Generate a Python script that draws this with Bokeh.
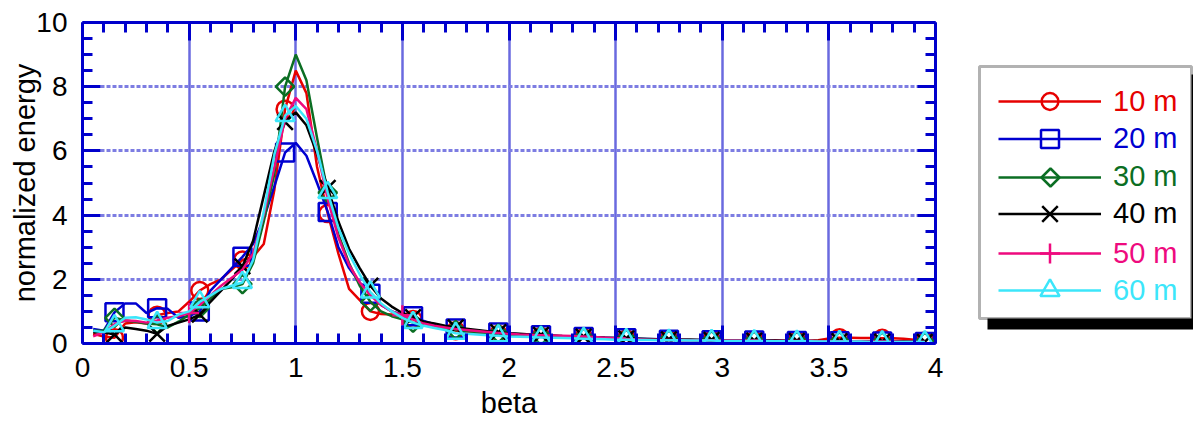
import math
from bokeh.plotting import figure
from bokeh.models import (Range1d, FixedTicker, LinearAxis, ColumnDataSource, CDSView,
                          IndexFilter, Legend, LegendItem, BoxAnnotation, PolyAnnotation)
from bokeh.layouts import row
from bokeh.embed import file_html
from bokeh.resources import INLINE

# ---------------- data ----------------
beta = [0.05, 0.10, 0.15, 0.20, 0.25, 0.30, 0.35, 0.40, 0.45, 0.50,
        0.55, 0.60, 0.65, 0.70, 0.75, 0.80, 0.85, 0.90, 0.95, 1.00,
        1.05, 1.10, 1.15, 1.20, 1.25, 1.30, 1.35, 1.40, 1.45, 1.50,
        1.55, 1.60, 1.65, 1.70, 1.75, 1.80, 1.85, 1.90, 1.95, 2.00,
        2.05, 2.10, 2.15, 2.20, 2.25, 2.30, 2.35, 2.40, 2.45, 2.50,
        2.55, 2.60, 2.65, 2.70, 2.75, 2.80, 2.85, 2.90, 2.95, 3.00,
        3.05, 3.10, 3.15, 3.20, 3.25, 3.30, 3.35, 3.40, 3.45, 3.50,
        3.55, 3.60, 3.65, 3.70, 3.75, 3.80, 3.85, 3.90, 3.95]

e10 = [0.30, 0.22, 0.18, 0.62, 0.66, 0.62, 0.88, 0.95, 1.00, 1.30,
       1.65, 1.85, 2.00, 2.30, 2.60, 2.70, 3.10, 4.80, 7.30, 8.50,
       7.80, 5.50, 4.05, 2.80, 1.70, 1.35, 1.00, 0.92, 0.90, 0.85,
       0.75, 0.62, 0.52, 0.45, 0.40, 0.36, 0.33, 0.30, 0.28, 0.26,
       0.25, 0.24, 0.22, 0.21, 0.20, 0.19, 0.18, 0.17, 0.16, 0.15,
       0.14, 0.13, 0.13, 0.12, 0.12, 0.11, 0.11, 0.10, 0.10, 0.10,
       0.10, 0.09, 0.09, 0.09, 0.09, 0.08, 0.08, 0.08, 0.10, 0.16,
       0.18, 0.18, 0.17, 0.17, 0.16, 0.16, 0.15, 0.12, 0.08]

e20 = [0.45, 0.40, 0.97, 1.25, 1.25, 0.95, 1.10, 1.08, 0.80, 0.85,
       1.00, 1.65, 2.00, 2.35, 2.70, 3.10, 3.90, 4.90, 5.95, 6.25,
       5.85, 5.00, 4.10, 3.00, 2.35, 1.90, 1.55, 1.20, 1.00, 0.90,
       0.85, 0.70, 0.60, 0.52, 0.47, 0.43, 0.40, 0.37, 0.34, 0.31,
       0.29, 0.27, 0.26, 0.24, 0.22, 0.21, 0.20, 0.19, 0.18, 0.17,
       0.16, 0.15, 0.14, 0.13, 0.12, 0.12, 0.11, 0.11, 0.10, 0.10,
       0.10, 0.09, 0.09, 0.09, 0.08, 0.08, 0.08, 0.08, 0.07, 0.07,
       0.07, 0.07, 0.06, 0.06, 0.06, 0.06, 0.05, 0.05, 0.05]

e30 = [0.40, 0.40, 0.80, 0.72, 0.68, 0.62, 0.60, 0.50, 0.68, 0.90,
       1.10, 1.40, 1.70, 1.75, 1.85, 2.50, 3.80, 5.30, 8.00, 9.00,
       8.20, 6.40, 4.70, 3.40, 2.50, 1.80, 1.30, 1.00, 0.85, 0.75,
       0.65, 0.58, 0.52, 0.47, 0.42, 0.39, 0.36, 0.33, 0.31, 0.29,
       0.27, 0.26, 0.24, 0.23, 0.21, 0.20, 0.19, 0.18, 0.17, 0.16,
       0.15, 0.14, 0.13, 0.12, 0.12, 0.11, 0.11, 0.10, 0.10, 0.10,
       0.09, 0.09, 0.09, 0.08, 0.08, 0.08, 0.08, 0.07, 0.07, 0.07,
       0.07, 0.06, 0.06, 0.06, 0.06, 0.05, 0.05, 0.05, 0.05]

e40 = [0.35, 0.35, 0.28, 0.50, 0.45, 0.40, 0.30, 0.55, 0.65, 0.75,
       0.90, 1.30, 1.65, 2.00, 2.40, 3.20, 4.60, 6.00, 6.90, 7.20,
       6.80, 5.90, 4.85, 3.80, 2.95, 2.35, 1.80, 1.40, 1.15, 0.95,
       0.82, 0.68, 0.62, 0.55, 0.50, 0.46, 0.42, 0.38, 0.35, 0.32,
       0.30, 0.28, 0.27, 0.25, 0.23, 0.22, 0.21, 0.20, 0.18, 0.17,
       0.16, 0.15, 0.14, 0.13, 0.13, 0.12, 0.12, 0.11, 0.11, 0.10,
       0.10, 0.10, 0.09, 0.09, 0.09, 0.08, 0.08, 0.08, 0.08, 0.07,
       0.07, 0.07, 0.07, 0.06, 0.06, 0.06, 0.06, 0.05, 0.05]

e50 = [0.22, 0.35, 0.60, 0.72, 0.70, 0.65, 0.72, 0.80, 0.85, 0.95,
       1.20, 1.50, 1.80, 2.05, 2.30, 2.80, 4.00, 5.50, 7.00, 7.65,
       7.30, 6.00, 4.50, 3.30, 2.45, 1.90, 1.50, 1.20, 1.00, 0.88,
       0.75, 0.62, 0.55, 0.50, 0.45, 0.42, 0.39, 0.36, 0.33, 0.30,
       0.28, 0.27, 0.26, 0.25, 0.24, 0.23, 0.22, 0.20, 0.18, 0.16,
       0.14, 0.13, 0.12, 0.12, 0.11, 0.11, 0.10, 0.10, 0.10, 0.09,
       0.09, 0.09, 0.09, 0.08, 0.08, 0.08, 0.08, 0.08, 0.07, 0.07,
       0.07, 0.07, 0.06, 0.06, 0.06, 0.06, 0.05, 0.05, 0.05]

e60 = [0.40, 0.35, 0.55, 0.80, 0.82, 0.75, 0.65, 0.70, 0.90, 1.00,
       1.30, 1.50, 1.70, 1.80, 1.90, 2.60, 4.10, 5.90, 7.10, 7.40,
       7.00, 6.00, 4.70, 3.60, 2.80, 2.15, 1.60, 1.25, 1.00, 0.80,
       0.65, 0.55, 0.48, 0.42, 0.32, 0.30, 0.28, 0.26, 0.24, 0.22,
       0.21, 0.20, 0.19, 0.18, 0.17, 0.16, 0.15, 0.14, 0.13, 0.12,
       0.12, 0.11, 0.11, 0.10, 0.10, 0.10, 0.09, 0.09, 0.09, 0.08,
       0.08, 0.08, 0.08, 0.08, 0.07, 0.07, 0.07, 0.07, 0.06, 0.06,
       0.06, 0.06, 0.06, 0.05, 0.05, 0.05, 0.05, 0.05, 0.05]

series_labels = ["10 m", "20 m", "30 m", "40 m", "50 m", "60 m"]
x_major = [0, 0.5, 1, 1.5, 2, 2.5, 3, 3.5, 4]
x_tick_labels = ["0", "0.5", "1", "1.5", "2", "2.5", "3", "3.5", "4"]
y_major = [0, 2, 4, 6, 8, 10]

# ---------------- styling ----------------
FONT = "Liberation Sans"
AXC = "#0000CC"
GRIDC = "#6A6ADF"
colors = ["#E60000", "#0000D0", "#0B6E23", "#000000", "#EE0A7E", "#3CE6FA"]
markers = ["circle", "square", "square", "x", "cross", "triangle"]
msizes = [17, 18, 13, 22, 20, 19]
mangles = [0, 0, math.pi / 4, 0, 0, 0]
keys = ["e10", "e20", "e30", "e40", "e50", "e60"]

src = ColumnDataSource(dict(beta=beta, e10=e10, e20=e20, e30=e30, e40=e40, e50=e50, e60=e60))

regular_idx = list(range(2, len(beta), 4))
pink_idx = [9, 29, 49, 69]

p = figure(width=968, height=424, x_range=Range1d(0, 4), y_range=Range1d(0, 10),
           output_backend="svg", toolbar_location=None,
           min_border_left=82, min_border_right=33, min_border_top=22, min_border_bottom=81)
p.outline_line_color = None
p.background_fill_color = "white"
p.border_fill_color = "white"

bottom_ax = p.below[0]
left_ax = p.left[0]

xt = FixedTicker(ticks=x_major, minor_ticks=[round(0.1 * i, 1) for i in range(41) if i % 5])
yt = FixedTicker(ticks=y_major, minor_ticks=[0.5 * i for i in range(21) if i % 4])

bottom_ax.ticker = xt
left_ax.ticker = yt
p.xgrid.ticker = xt
p.ygrid.ticker = yt
bottom_ax.major_label_overrides = {v: s for v, s in zip(x_major, x_tick_labels)}

top_ax = LinearAxis(ticker=xt)
right_ax = LinearAxis(ticker=yt)
p.add_layout(top_ax, "above")
p.add_layout(right_ax, "right")

for ax in [bottom_ax, left_ax, top_ax, right_ax]:
    ax.axis_line_color = AXC
    ax.axis_line_width = 3
    ax.major_tick_line_color = AXC
    ax.major_tick_line_width = 3
    ax.minor_tick_line_color = AXC
    ax.minor_tick_line_width = 3
    ax.major_tick_out = 0
    ax.minor_tick_out = 0
    ax.major_tick_in = 18
    ax.minor_tick_in = 10
    ax.major_label_text_font = FONT
    ax.major_label_text_font_size = "28px"
    ax.major_label_text_color = "black"
    ax.axis_label_text_font = FONT
    ax.axis_label_text_font_size = "29px"
    ax.axis_label_text_font_style = "normal"
    ax.axis_label_text_color = "black"

for ax in [top_ax, right_ax]:
    ax.major_label_text_font_size = "0px"
    ax.major_label_standoff = 0

bottom_ax.axis_label = "beta"
bottom_ax.major_label_standoff = 14
bottom_ax.axis_label_standoff = 7
left_ax.axis_label = "normalized energy"
left_ax.major_label_standoff = 15
left_ax.axis_label_standoff = -8

p.xgrid.grid_line_color = GRIDC
p.xgrid.grid_line_width = 2.5
p.ygrid.grid_line_color = "#7D7DE2"
p.ygrid.grid_line_width = 3
p.ygrid.grid_line_dash = "4 2"

for i, k in enumerate(keys):
    c = colors[i]
    p.line(x="beta", y=k, source=src, line_color=c, line_width=2.5)
    idx = pink_idx if k == "e50" else regular_idx
    p.scatter(x="beta", y=k, source=src, view=CDSView(filter=IndexFilter(idx)),
              marker=markers[i], size=msizes[i], angle=mangles[i],
              line_color=c, fill_color=None, line_width=2.5)

# ---------------- legend panel ----------------
# frame of this panel is aligned with the main frame (page y 22..343);
# ranges are set so that data units equal page pixels.
leg = figure(width=225, height=424, x_range=Range1d(968, 1193), y_range=Range1d(343, 22),
             output_backend="svg", toolbar_location=None,
             x_axis_type=None, y_axis_type=None,
             min_border_left=0, min_border_right=0, min_border_top=22, min_border_bottom=81)
leg.outline_line_color = None
leg.background_fill_color = "white"
leg.border_fill_color = "white"

leg.add_layout(BoxAnnotation(left=987, right=1210, top=74, bottom=329,
                             fill_color="black", fill_alpha=1, line_color=None))
leg.add_layout(BoxAnnotation(left=979, right=1191, top=66, bottom=318,
                             fill_color="white", fill_alpha=1, line_color="black", line_width=3))

row_centers = [101, 138, 177, 213, 253, 290]
for i, lab in enumerate(series_labels):
    c = colors[i]
    k = keys[i]
    gh = round(msizes[i] / 0.4)
    rl = leg.line(x="beta", y=k, source=src, line_color=c, line_width=2.5)
    rends = [rl]
    if k != "e30":
        rm = leg.scatter(x="beta", y=k, source=src, marker=markers[i], size=msizes[i],
                         line_color=c, fill_color=None, line_width=2.5)
        rends.append(rm)
    lg = Legend(items=[LegendItem(label=lab, renderers=rends)],
                location=(30, 343 - (row_centers[i] + gh / 2)),
                glyph_width=103, glyph_height=gh, label_height=gh, label_standoff=12,
                padding=0, margin=0, spacing=0,
                border_line_color=None, background_fill_alpha=0,
                label_text_color=c, label_text_font=FONT, label_text_font_size="29px")
    leg.add_layout(lg)

# diamond key of the "30 m" entry (legend keys cannot be rotated)
dcx, dcy, dr = 1050, row_centers[2], 9
leg.add_layout(PolyAnnotation(xs=[dcx - dr, dcx, dcx + dr, dcx], ys=[dcy, dcy - dr, dcy, dcy + dr],
                              fill_color="white", fill_alpha=1,
                              line_color=colors[2], line_alpha=1, line_width=2.5))

layout = row(p, leg)
open("out.html", "w").write(file_html(layout, INLINE))
